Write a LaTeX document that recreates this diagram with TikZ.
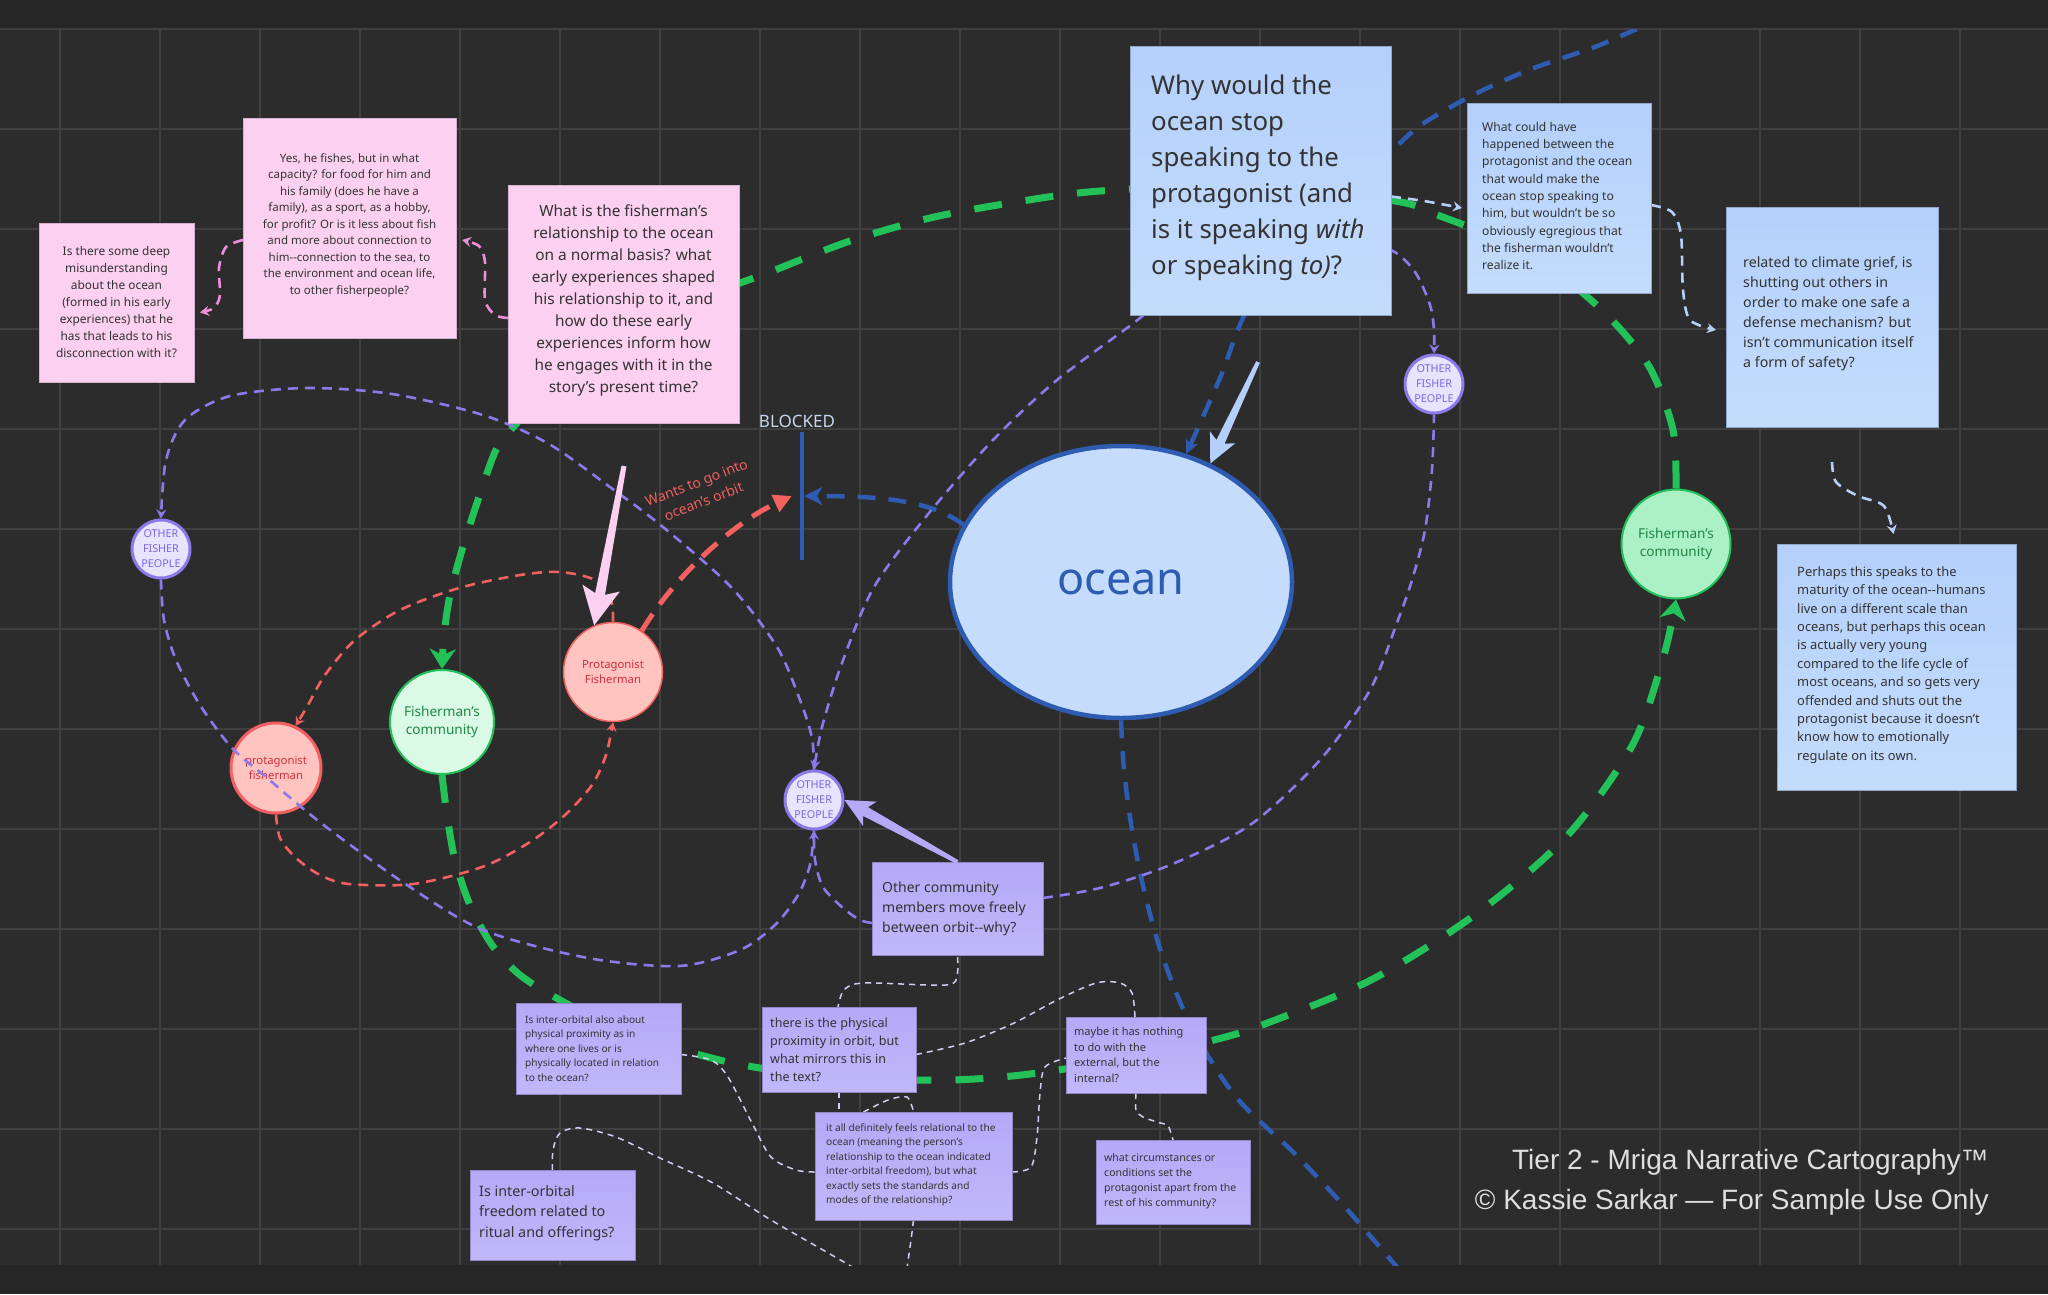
\documentclass[tikz,border=0pt]{standalone}
\usepackage{fontspec}
\setmainfont{Noto Sans}
\newfontfamily\footfont{Liberation Sans}
\usetikzlibrary{arrows.meta,calc,shapes.geometric}
\pgfdeclarelayer{bg}\pgfdeclarelayer{edges}\pgfdeclarelayer{top}
\pgfsetlayers{bg,edges,main,top}
\definecolor{bandc}{HTML}{262626}
\definecolor{gridbgc}{HTML}{2C2C2C}
\definecolor{gridc}{HTML}{404040}
\definecolor{pinkc}{RGB}{252,208,240}
\definecolor{bluebox}{RGB}{180,208,251}
\definecolor{blueboxb}{RGB}{196,220,252}
\definecolor{lavbox}{RGB}{181,169,247}
\definecolor{lavboxb}{RGB}{193,183,250}
\definecolor{txtc}{HTML}{333333}
\definecolor{greenc}{RGB}{34,194,88}
\definecolor{bluec}{RGB}{45,92,178}
\definecolor{redc}{RGB}{242,96,96}
\definecolor{lavc}{RGB}{139,122,234}
\definecolor{pinkd}{RGB}{240,140,220}
\definecolor{lblue}{RGB}{180,208,250}
\definecolor{thinw}{RGB}{210,204,240}
\definecolor{ofpfill}{RGB}{232,228,255}
\definecolor{ofptext}{RGB}{124,102,226}
\definecolor{pffill}{RGB}{255,196,192}
\definecolor{pftext}{RGB}{208,48,60}
\definecolor{cfill}{RGB}{218,250,230}
\definecolor{cfilltwo}{RGB}{172,240,198}
\definecolor{ctext}{RGB}{30,135,70}
\definecolor{oceanfill}{RGB}{198,220,252}
\definecolor{blockc}{RGB}{197,214,238}
\definecolor{footc}{HTML}{DEDEDE}
\tikzset{
  pinkbox/.style={rectangle,inner sep=0,outer sep=0,fill=pinkc,draw=pinkc!85!black,line width=0.7},
  bluebx/.style={rectangle,inner sep=0,outer sep=0,top color=bluebox,bottom color=blueboxb,draw=bluebox!80!black,line width=0.7},
  lavbx/.style={rectangle,inner sep=0,outer sep=0,top color=lavbox,bottom color=lavboxb,draw=lavbox!80!black,line width=0.7},
  txt/.style={inner sep=0,text=txtc},
  ofp/.style={circle,minimum size=58,inner sep=0,fill=ofpfill,draw=lavc,line width=3,text=ofptext,font={\fontsize{10.8}{15}\selectfont},align=center},
  pf/.style={circle,inner sep=0,fill=pffill,draw=redc,text=pftext,font={\fontsize{11.3}{15}\selectfont},align=center},
  comm/.style={circle,inner sep=0,draw=greenc,line width=2,text=ctext,font={\fontsize{13.6}{18}\selectfont},align=center},
  gline/.style={draw=greenc,line width=7,dash pattern=on 28pt off 24pt},
  bline/.style={draw=bluec,line width=4.5,dash pattern=on 18pt off 13pt},
  lline/.style={draw=lavc,line width=2.6,dash pattern=on 10pt off 7pt},
  rline/.style={draw=redc,line width=2.6,dash pattern=on 10pt off 7pt},
  pline/.style={draw=pinkd,line width=2.6,dash pattern=on 10pt off 7pt},
  lbline/.style={draw=lblue,line width=2.6,dash pattern=on 10pt off 7pt},
  wline/.style={draw=thinw,line width=1.5,dash pattern=on 6pt off 5pt},
  smalltip/.style={-{Stealth[length=9pt,width=10pt,inset=3pt]}},
  greentip/.style={-{Stealth[length=20pt,width=26pt,inset=6pt]}}
}
\begin{document}
\begin{tikzpicture}[x=1pt,y=-1pt]
\useasboundingbox (0,0) rectangle (2048,1294);
\begin{pgfonlayer}{bg}
  \fill[bandc] (0,0) rectangle (2048,1294);
  \fill[gridbgc] (0,29) rectangle (2048,1265);
  \foreach \i in {0,...,19} \draw[gridc,line width=1.8] ({60+100*\i},29) -- ({60+100*\i},1265);
  \foreach \j in {0,...,12} \draw[gridc,line width=1.8] (0,{29+100*\j}) -- (2048,{29+100*\j});
\end{pgfonlayer}

% ---------- boxes ----------
\node[pinkbox,minimum width=155,minimum height=159] (q1) at (116.5,302.5) {};
\node[txt,align=center,font={\fontsize{11.9}{17}\selectfont}] (q1t) at (q1.center) {Is there some deep\\misunderstanding\\about the ocean\\(formed in his early\\experiences) that he\\has that leads to his\\disconnection with it?};
\node[pinkbox,minimum width=213,minimum height=220] (q2) at (349.5,228) {};
\node[txt,align=center,font={\fontsize{11.5}{16.5}\selectfont}] (q2t) at ($(q2.center)+(0,-3)$) {Yes, he fishes, but in what\\capacity? for food for him and\\his family (does he have a\\family), as a sport, as a hobby,\\for profit? Or is it less about fish\\and more about connection to\\him-\kern0pt-connection to the sea, to\\the environment and ocean life,\\to other fisherpeople?};
\node[pinkbox,minimum width=231,minimum height=238] (q3) at (623.5,304) {};
\node[txt,align=center,font={\fontsize{15.4}{22}\selectfont}] (q3t) at ($(q3.center)+(0,-4)$) {What is the fisherman's\\relationship to the ocean\\on a normal basis? what\\early experiences shaped\\his relationship to it, and\\how do these early\\experiences inform how\\he engages with it in the\\story's present time?};
\node[bluebx,minimum width=261,minimum height=269] (why) at (1260.5,180.5) {};
\node[txt,align=left,anchor=west,font={\fontsize{25.8}{36}\selectfont}] (whyt) at ($(why.west)+(21,-3)$) {Why would the\\ocean stop\\speaking to the\\protagonist (and\\is it speaking \textit{with}\\or speaking \textit{to)}?};
\node[bluebx,minimum width=184,minimum height=190] (q5) at (1559,198) {};
\node[txt,align=left,anchor=west,font={\fontsize{12.1}{17.3}\selectfont}] (q5t) at ($(q5.west)+(15,-2)$) {What could have\\happened between the\\protagonist and the ocean\\that would make the\\ocean stop speaking to\\him, but wouldn't be so\\obviously egregious that\\the fisherman wouldn't\\realize it.};
\node[bluebx,minimum width=212,minimum height=220] (q6) at (1832,317) {};
\node[txt,align=left,anchor=west,font={\fontsize{14.2}{20}\selectfont}] (q6t) at ($(q6.west)+(17,-3)$) {related to climate grief, is\\shutting out others in\\order to make one safe a\\defense mechanism? but\\isn't communication itself\\a form of safety?};
\node[bluebx,minimum width=239,minimum height=246] (q7) at (1896.5,667) {};
\node[txt,align=left,anchor=west,font={\fontsize{12.9}{18.4}\selectfont}] (q7t) at ($(q7.west)+(20,-2)$) {Perhaps this speaks to the\\maturity of the ocean-\kern0pt-humans\\live on a different scale than\\oceans, but perhaps this ocean\\is actually very young\\compared to the life cycle of\\most oceans, and so gets very\\offended and shuts out the\\protagonist because it doesn't\\know how to emotionally\\regulate on its own.};
\node[lavbx,minimum width=171,minimum height=93] (oc) at (957.5,908.5) {};
\node[txt,align=left,anchor=west,font={\fontsize{14}{20}\selectfont}] (oct) at ($(oc.west)+(10,0)$) {Other community\\members move freely\\between orbit-\kern0pt-why?};
\node[lavbx,minimum width=165,minimum height=91] (b1) at (598.5,1048.5) {};
\node[txt,align=left,anchor=west,font={\fontsize{10.1}{14.5}\selectfont}] (b1t) at ($(b1.west)+(9,0)$) {Is inter-orbital also about\\physical proximity as in\\where one lives or is\\physically located in relation\\to the ocean?};
\node[lavbx,minimum width=154,minimum height=85] (b2) at (839,1049.5) {};
\node[txt,align=left,anchor=west,font={\fontsize{12.6}{18}\selectfont}] (b2t) at ($(b2.west)+(8,0)$) {there is the physical\\proximity in orbit, but\\what mirrors this in\\the text?};
\node[lavbx,minimum width=140,minimum height=76] (b3) at (1136,1055) {};
\node[txt,align=left,anchor=west,font={\fontsize{11}{15.7}\selectfont}] (b3t) at ($(b3.west)+(8,0)$) {maybe it has nothing\\to do with the\\external, but the\\internal?};
\node[lavbx,minimum width=197,minimum height=108] (b4) at (913.5,1166) {};
\node[txt,align=left,anchor=west,font={\fontsize{10.1}{14.5}\selectfont}] (b4t) at ($(b4.west)+(11,-1)$) {it all definitely feels relational to the\\ocean (meaning the person's\\relationship to the ocean indicated\\inter-orbital freedom), but what\\exactly sets the standards and\\modes of the relationship?};
\node[lavbx,minimum width=154,minimum height=84] (b5) at (1173,1182) {};
\node[txt,align=left,anchor=west,font={\fontsize{10.5}{15}\selectfont}] (b5t) at ($(b5.west)+(8,-1)$) {what circumstances or\\conditions set the\\protagonist apart from the\\rest of his community?};
\node[lavbx,minimum width=165,minimum height=90] (b6) at (552.5,1215) {};
\node[txt,align=left,anchor=west,font={\fontsize{14.3}{20.5}\selectfont}] (b6t) at ($(b6.west)+(9,-2)$) {Is inter-orbital\\freedom related to\\ritual and offerings?};

% ---------- circles ----------
\node[ofp] (lofp) at (161,549) {OTHER\\FISHER\\PEOPLE};
\node[ofp] (mofp) at (814,800) {OTHER\\FISHER\\PEOPLE};
\node[ofp] (rofp) at (1434,384) {OTHER\\FISHER\\PEOPLE};
\node[pf,minimum size=90,line width=3] (lpf) at (276,768) {protagonist\\fisherman};
\node[pf,minimum size=99,line width=1.5] (upf) at (613,672) {Protagonist\\Fisherman};
\node[comm,minimum size=104,fill=cfill] (lcomm) at (442,722) {Fisherman's\\community};
\node[comm,minimum size=109,fill=cfilltwo] (rcomm) at (1676,544) {Fisherman's\\community};
\node[ellipse,minimum width=342,minimum height=272,inner sep=0,fill=oceanfill,draw=bluec,line width=4.5,text=bluec,font={\fontsize{45}{50}\selectfont}] (ocean) at (1121,582) {ocean};
\node[rectangle,fill=bluec,minimum width=4,minimum height=128,inner sep=0] (bar) at (802,496) {};
\node[inner sep=0,text=blockc,font={\fontsize{17}{20}\selectfont}] (blk) at (797,421) {BLOCKED};
\node[inner sep=0,text=redc,rotate=21,align=center,font={\fontsize{14}{20}\selectfont}] (wants) at (700,492) {Wants to go into\\ocean's orbit};

% ---------- connectors ----------
\begin{pgfonlayer}{edges}
\begin{scope}
\clip (0,29) rectangle (2048,1265);
% green orbit
\draw[gline,greentip] plot[smooth] coordinates {(rcomm.north) (1673,430) (1650,368) (1610,318) (1560,275) (1500,240) (1440,216) (1395,201) (1250,186) (1100,191) (1010,203) (930,218) (850,241) (770,272) (700,300) (600,360) (540,400) (516,424) (496,450) (478,500) (462,550) (450,595) (444,635) (lcomm.north)};
\draw[gline,greentip] plot[smooth] coordinates {(lcomm.south) (447,815) (455,860) (470,905) (492,945) (520,975) (560,1000) (620,1030) (700,1055) (760,1068) (850,1078) (950,1080) (1030,1074) (1130,1058) (1210,1041) (1262,1025) (1371,980) (1476,914) (1567,836) (1633,744) (1664,655) (rcomm.south)};
% blue
\coordinate (btop) at (1665,16);
\draw[bline,-{Stealth[length=14pt,width=13pt,inset=4pt]}] plot[smooth] coordinates {(btop) (1600,45) (1534,68) (1477,93) (1424,123) (1395,148) (1330,215) (1275,270) (1243,318) (1220,378) (ocean.63)};
\coordinate (bbot) at (1408,1280);
\draw[bline] plot[smooth] coordinates {(ocean.south) (1124,770) (1132,830) (1144,890) (1162,955) (1192,1028) (1236,1097) (1293,1152) (1345,1207) (bbot)};
\draw[bline,-{Stealth[length=18pt,width=18pt,inset=5pt]}] (ocean.160) .. controls (930,500) and (880,496) .. (bar.east);
\draw[draw=redc,line width=5,dash pattern=on 20pt off 12pt,-{Triangle[length=18pt,width=18pt]}] (upf.55) .. controls (675,575) and (735,522) .. ([xshift=-8pt]bar.west);
% lavender orbits
\draw[lline,smalltip] plot[smooth] coordinates {(mofp.north) (812,738) (800,700) (777,647) (731,587) (663,527) (614,490) (549,444) (483,415) (392,394) (307,388) (230,396) (185,420) (166,460) (lofp.north)};
\coordinate (lvA) at (1180,280);
\draw[lline,smalltip] plot[smooth] coordinates {(lvA) (1140,318) (1057,380) (993,440) (929,513) (874,587) (842,663) (822,727) (mofp.north)};
\coordinate (lvB) at (1340,235);
\draw[lline,smalltip] plot[smooth] coordinates {(lvB) (1391,250) (1415,272) (1430,305) (1434,330) (rofp.north)};
\draw[lline,smalltip] plot[smooth] coordinates {($(oc.north west)+(0,61)$) (860,920) (843,908) (823,887) (815,860) (mofp.south)};
\draw[lline] plot[smooth] coordinates {($(oc.north east)+(0,36)$) (1100,888) (1170,865) (1250,825) (1320,760) (1370,690) (1398,620) (1412,580) (1425,530) (1432,470) (rofp.south)};
% red orbits
\draw[rline,smalltip] plot[smooth] coordinates {(upf.north) (611,600) (595,580) (560,572) (520,575) (459,588) (400,610) (355,640) (325,675) (308,705) (lpf.65)};
\draw[rline,smalltip] plot[smooth] coordinates {(lpf.south) (280,838) (296,858) (320,875) (349,884) (413,884) (482,867) (530,842) (565,815) (592,785) (606,755) (upf.south)};
% pink
\draw[pline,smalltip] plot[smooth] coordinates {($(q2.west)+(0,12)$) (226,247) (219,268) (220,295) (214,308) ($(q1.east)+(6,10)$)};
\draw[pline,smalltip] plot[smooth] coordinates {($(q3.west)+(0,14)$) (495,315) (485,300) (485,262) (479,246) ($(q2.east)+(6,12)$)};
% light blue
\draw[lbline,smalltip] plot[smooth] coordinates {($(why.east)+(0,16)$) (1424,201) ($(q5.west)+(-5,10)$)};
\draw[lbline,smalltip] plot[smooth] coordinates {($(q5.east)+(0,7)$) (1672,212) (1681,235) (1683,290) (1690,320) ($(q6.west)+(-10,13)$)};
\draw[lbline,smalltip] plot[smooth] coordinates {($(q6.south)+(0,35)$) (1836,482) (1858,496) (1884,506) ($(q7.north)+(-3,-10)$)};
% thin links between lower notes
\draw[wline] plot[smooth] coordinates {($(oc.south)+(0,2)$) (957,975) (946,985) (864,983) (844,990) ($(b2.north)+(-1,0)$)};
\draw[wline] plot[smooth] coordinates {($(b2.east)+(0,5)$) (965,1043) (1014,1023) (1057,1000) (1096,983) (1120,983) (1132,993) ($(b3.north)+(-1,0)$)};
\draw[wline] plot[smooth] coordinates {($(b1.east)+(0,6)$) (711,1060) (728,1077) (752,1123) (771,1157) (796,1170) ($(b4.west)+(0,6)$)};
\draw[wline] plot[smooth] coordinates {($(b4.east)+(0,6)$) (1031,1167) (1037,1137) (1040,1093) (1045,1067) ($(b3.west)+(0,3)$)};
\draw[wline] (b2.south) -- (b2.south |- b4.north);
\draw[wline] plot[smooth] coordinates {($(b4.north)+(-50,0)$) (888,1100) (907,1097) (b4.north)};
\draw[wline] plot[smooth] coordinates {(b3.south) (1136,1110) (1143,1117) (1157,1122) (1168,1126) (b5.north)};
\coordinate (wend) at (880,1285);
\draw[wline] plot[smooth] coordinates {(b6.north) (553,1150) (560,1133) (580,1128) (616,1137) (660,1158) (713,1183) (771,1220) (849,1265) (wend)};
\coordinate (wend2) at (906,1275);
\draw[wline] plot[smooth] coordinates {(b4.south) (911,1240) (wend2)};
\end{scope}
\end{pgfonlayer}

\begin{pgfonlayer}{top}
\draw[lline] plot[smooth] coordinates {(lofp.south) (164,620) (176,660) (200,705) (232,748) (266,777) (321,823) (404,883) (483,930) (588,958) (679,966) (740,950) (775,925) (798,895) (810,865) (mofp.south)};
% tapered pointer arrows
\coordinate (pkS) at (624,466);
\coordinate (pkT) at (upf.112);
\coordinate (pkB) at ($(pkT)!32pt!(pkS)$);
\coordinate (pkC) at ($(pkT)!38pt!(pkS)$);
\fill[pinkc] ($(pkS)!2.5pt!90:(pkT)$) -- ($(pkB)!5pt!90:(pkT)$) -- ($(pkC)!19pt!90:(pkT)$) -- (pkT) -- ($(pkC)!19pt!-90:(pkT)$) -- ($(pkB)!5pt!-90:(pkT)$) -- ($(pkS)!2.5pt!-90:(pkT)$) -- cycle;
\coordinate (lbS) at (1258,362);
\coordinate (lbT) at (ocean.53);
\coordinate (lbB) at ($(lbT)!24pt!(lbS)$);
\coordinate (lbC) at ($(lbT)!29pt!(lbS)$);
\fill[lblue] ($(lbS)!2pt!90:(lbT)$) -- ($(lbB)!4.5pt!90:(lbT)$) -- ($(lbC)!14pt!90:(lbT)$) -- (lbT) -- ($(lbC)!14pt!-90:(lbT)$) -- ($(lbB)!4.5pt!-90:(lbT)$) -- ($(lbS)!2pt!-90:(lbT)$) -- cycle;
\coordinate (lvS) at (oc.north);
\coordinate (lvT) at (mofp.east);
\coordinate (lvBB) at ($(lvT)!24pt!(lvS)$);
\coordinate (lvC) at ($(lvT)!29pt!(lvS)$);
\fill[lavbox] ($(lvS)!2pt!90:(lvT)$) -- ($(lvBB)!5pt!90:(lvT)$) -- ($(lvC)!14pt!90:(lvT)$) -- (lvT) -- ($(lvC)!14pt!-90:(lvT)$) -- ($(lvBB)!5pt!-90:(lvT)$) -- ($(lvS)!2pt!-90:(lvT)$) -- cycle;
\end{pgfonlayer}

\node[inner sep=0,text=footc,align=right,anchor=east,font={\footfont\fontsize{28}{40}\selectfont}] (foot) at (1989,1182) {Tier 2 - Mriga Narrative Cartography™\\© Kassie Sarkar — For Sample Use Only};
\end{tikzpicture}
\end{document}
